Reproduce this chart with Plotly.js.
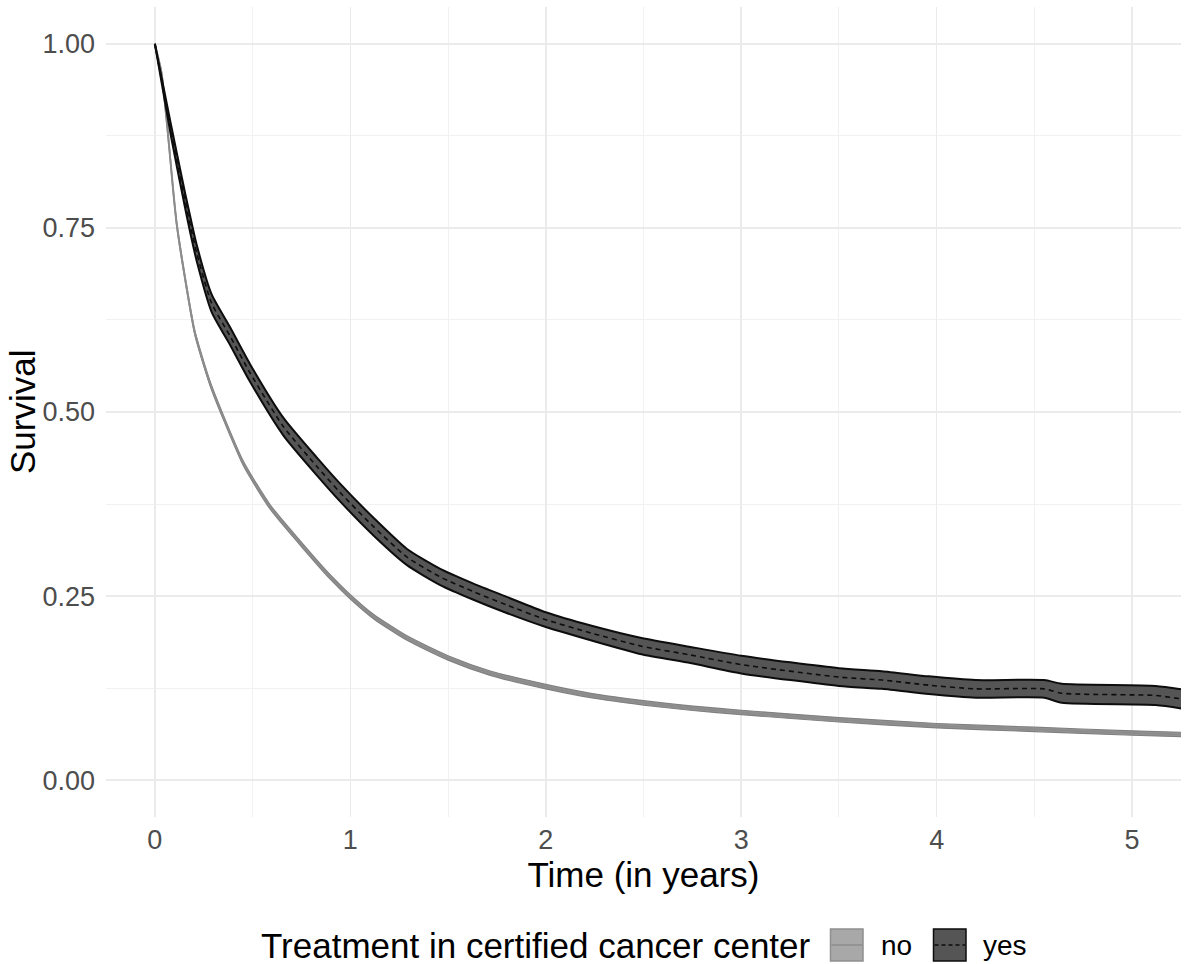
<!DOCTYPE html>
<html>
<head>
<meta charset="utf-8">
<script src="https://cdn.plot.ly/plotly-3.0.1.min.js"></script>
<style>html,body{margin:0;padding:0;background:#fff;}#chart{width:1184px;height:964px;}</style>
</head>
<body>
<div id="chart"></div>
<script>
// ---- data ----
const groups = ["no", "yes"];
const legendTitle = "Treatment in certified cancer center";
const xTitle = "Time (in years)";
const yTitle = "Survival";

const time_yes = [0, 0.082, 0.154, 0.183, 0.214, 0.29, 0.385, 0.487, 0.658, 0.829, 0.95, 1.12, 1.29, 1.46, 1.63, 1.80, 2.0, 2.23, 2.49, 2.74, 3.0, 3.5, 3.72, 3.96, 4.2, 4.55, 4.64, 5.12, 5.26];
const surv_yes = [1.0, 0.883, 0.788, 0.752, 0.716, 0.648, 0.603, 0.553, 0.480, 0.426, 0.390, 0.344, 0.303, 0.276, 0.256, 0.238, 0.218, 0.200, 0.182, 0.170, 0.157, 0.140, 0.136, 0.129, 0.124, 0.124, 0.118, 0.115, 0.110];
const lower_yes = [1.0, 0.875, 0.778, 0.741, 0.705, 0.636, 0.591, 0.541, 0.468, 0.414, 0.378, 0.332, 0.292, 0.265, 0.245, 0.227, 0.208, 0.190, 0.171, 0.159, 0.145, 0.128, 0.124, 0.117, 0.112, 0.112, 0.105, 0.102, 0.097];
const upper_yes = [1.0, 0.891, 0.798, 0.763, 0.727, 0.660, 0.615, 0.565, 0.492, 0.438, 0.402, 0.356, 0.314, 0.287, 0.267, 0.249, 0.228, 0.210, 0.193, 0.181, 0.169, 0.152, 0.148, 0.141, 0.136, 0.136, 0.131, 0.128, 0.123];

const time_no = [0, 0.034, 0.065, 0.094, 0.111, 0.145, 0.205, 0.282, 0.35, 0.453, 0.59, 0.744, 0.897, 1.0, 1.12, 1.29, 1.5, 1.72, 2.0, 2.23, 2.5, 2.74, 3.0, 3.5, 4.0, 4.5, 5.0, 5.26];
const surv_no = [1.0, 0.960, 0.883, 0.800, 0.757, 0.697, 0.607, 0.539, 0.493, 0.430, 0.371, 0.322, 0.276, 0.249, 0.222, 0.193, 0.166, 0.145, 0.127, 0.115, 0.105, 0.098, 0.092, 0.082, 0.074, 0.069, 0.064, 0.062];
const lower_no = [1.0, 0.957, 0.880, 0.797, 0.754, 0.694, 0.604, 0.536, 0.490, 0.427, 0.368, 0.319, 0.273, 0.246, 0.219, 0.190, 0.163, 0.142, 0.124, 0.112, 0.102, 0.095, 0.089, 0.079, 0.071, 0.066, 0.061, 0.059];
const upper_no = [1.0, 0.963, 0.886, 0.803, 0.760, 0.700, 0.610, 0.542, 0.496, 0.433, 0.374, 0.325, 0.279, 0.252, 0.225, 0.196, 0.169, 0.148, 0.130, 0.118, 0.108, 0.101, 0.095, 0.085, 0.077, 0.072, 0.067, 0.065];

const xTickVals = [0, 1, 2, 3, 4, 5];
const xTickText = ["0", "1", "2", "3", "4", "5"];
const yTickVals = [0, 0.25, 0.5, 0.75, 1];
const yTickText = ["0.00", "0.25", "0.50", "0.75", "1.00"];

// ---- styling ----
const FONT = "'Liberation Sans', Arial, Helvetica, sans-serif";
const W = 1184, H = 964;
const M = {l: 106, r: 3, t: 7, b: 147};
const PW = W - M.l - M.r, PH = H - M.t - M.b;
const px = x => (x - M.l) / PW;           // pixel -> paper x
const py = y => (H - M.b - y) / PH;       // pixel -> paper y
const SM = 0.6;

const traces = [
  // no ribbon
  {x: time_no, y: lower_no, mode: "lines", line: {color: "#808080", width: 1.2, shape: "spline", smoothing: SM}, hoverinfo: "skip", showlegend: false},
  {x: time_no, y: upper_no, mode: "lines", fill: "tonexty", fillcolor: "rgba(138,138,138,0.9)", line: {color: "#808080", width: 1.2, shape: "spline", smoothing: SM}, hoverinfo: "skip", showlegend: false},
  {x: time_no, y: surv_no, mode: "lines", name: groups[0], line: {color: "#8c8c8c", width: 2, shape: "spline", smoothing: SM}, showlegend: false},
  // yes ribbon
  {x: time_yes, y: lower_yes, mode: "lines", line: {color: "#0d0d0d", width: 2, shape: "spline", smoothing: SM}, hoverinfo: "skip", showlegend: false},
  {x: time_yes, y: upper_yes, mode: "lines", fill: "tonexty", fillcolor: "#555555", line: {color: "#0d0d0d", width: 2, shape: "spline", smoothing: SM}, hoverinfo: "skip", showlegend: false},
  {x: time_yes, y: surv_yes, mode: "lines", name: groups[1], line: {color: "#0d0d0d", width: 1.6, dash: "5px,4px", shape: "spline", smoothing: SM}, showlegend: false}
];

// manual ggplot-style legend
const legY = 945;
const kNo = {x0: 830.5, x1: 863, y0: legY - 16, y1: legY + 16};
const kYes = {x0: 933.5, x1: 966, y0: legY - 16, y1: legY + 16};
const shapes = [
  {type: "rect", xref: "paper", yref: "paper", x0: px(kNo.x0), x1: px(kNo.x1), y0: py(kNo.y1), y1: py(kNo.y0), fillcolor: "#a8a8a8", line: {color: "#8f8f8f", width: 1.5}},
  {type: "line", xref: "paper", yref: "paper", x0: px(kNo.x0 + 1), x1: px(kNo.x1 - 1), y0: py(legY), y1: py(legY), line: {color: "#8c8c8c", width: 1.5}},
  {type: "rect", xref: "paper", yref: "paper", x0: px(kYes.x0), x1: px(kYes.x1), y0: py(kYes.y1), y1: py(kYes.y0), fillcolor: "#555555", line: {color: "#0d0d0d", width: 1.5}},
  {type: "line", xref: "paper", yref: "paper", x0: px(kYes.x0 + 1), x1: px(kYes.x1 - 1), y0: py(legY), y1: py(legY), line: {color: "#0d0d0d", width: 1.5, dash: "4px,3px"}}
];
const annotations = [
  {xref: "paper", yref: "paper", x: px(812), y: py(legY), xanchor: "right", yanchor: "middle", text: legendTitle, showarrow: false, borderpad: 0, font: {family: FONT, size: 35, color: "#000"}},
  {xref: "paper", yref: "paper", x: px(880), y: py(legY), xanchor: "left", yanchor: "middle", text: groups[0], showarrow: false, borderpad: 0, font: {family: FONT, size: 28, color: "#000"}},
  {xref: "paper", yref: "paper", x: px(982), y: py(legY), xanchor: "left", yanchor: "middle", text: groups[1], showarrow: false, borderpad: 0, font: {family: FONT, size: 28, color: "#000"}},
  {xref: "paper", yref: "paper", x: px(22), y: py(412), xanchor: "center", yanchor: "middle", textangle: -90, text: yTitle, showarrow: false, borderpad: 0, font: {family: FONT, size: 35, color: "#000"}}
];

const layout = {
  width: W, height: H,
  margin: M,
  paper_bgcolor: "#ffffff", plot_bgcolor: "#ffffff",
  font: {family: FONT},
  showlegend: false,
  xaxis: {
    range: [-0.25, 5.25],
    tickvals: xTickVals, ticktext: xTickText,
    showgrid: true, gridcolor: "#EBEBEB", gridwidth: 1.6,
    minor: {dtick: 0.5, tick0: 0, showgrid: true, gridcolor: "#EFEFEF", gridwidth: 0.9},
    zeroline: false, showline: false, ticks: "",
    tickfont: {family: FONT, size: 27, color: "#4D4D4D"},
    ticklabelstandoff: 4,
    title: {text: xTitle, font: {family: FONT, size: 35, color: "#000"}, standoff: 8},
    automargin: false, fixedrange: true
  },
  yaxis: {
    range: [-0.05, 1.05],
    tickvals: yTickVals, ticktext: yTickText,
    showgrid: true, gridcolor: "#EBEBEB", gridwidth: 1.6,
    minor: {dtick: 0.125, tick0: 0, showgrid: true, gridcolor: "#EFEFEF", gridwidth: 0.9},
    zeroline: false, showline: false, ticks: "",
    tickfont: {family: FONT, size: 27, color: "#4D4D4D"},
    ticklabelstandoff: 10,
    automargin: false, fixedrange: true
  },
  shapes: shapes,
  annotations: annotations
};

Plotly.newPlot("chart", traces, layout, {displayModeBar: false, staticPlot: true});
</script>
</body>
</html>
